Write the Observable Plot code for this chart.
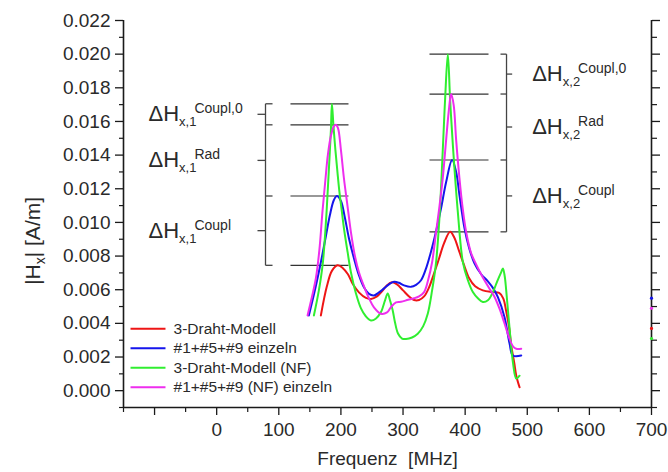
<!DOCTYPE html>
<html>
<head>
<meta charset="utf-8">
<script src="https://cdn.jsdelivr.net/npm/d3@7"></script>
<script src="https://cdn.jsdelivr.net/npm/@observablehq/plot@0.6"></script>
<style>
html, body { margin: 0; padding: 0; background: #ffffff; }
#chart { width: 668px; height: 472px; }
</style>
</head>
<body>
<div id="chart"></div>
<script>
// ---------- data (frequency in MHz, |Hx| in A/m) ----------
const seriesNames = ["3-Draht-Modell", "#1+#5+#9 einzeln", "3-Draht-Modell (NF)", "#1+#5+#9 (NF) einzeln"];
const seriesColors = ["#ee1515", "#1515ec", "#30ee30", "#ee2eee"];

const drahtModell = [
  [167.7, 0.00447], [177.4, 0.00620], [185.5, 0.00712], [194.7, 0.00745], [203.2, 0.00728],
  [211.3, 0.00692], [219.4, 0.00632], [229.0, 0.00584], [240.3, 0.00551], [248.4, 0.00545],
  [258.1, 0.00560], [266.1, 0.00590], [274.2, 0.00626], [282.3, 0.00644], [290.3, 0.00632],
  [300.0, 0.00596], [309.7, 0.00560], [317.7, 0.00539], [325.8, 0.00539], [333.9, 0.00560],
  [341.9, 0.00614], [350.0, 0.00698], [358.1, 0.00787], [366.1, 0.00877], [375.8, 0.00944],
  [382.3, 0.00912], [390.3, 0.00829], [398.4, 0.00745], [406.5, 0.00668], [416.1, 0.00620],
  [428.5, 0.00596], [444.7, 0.00586], [454.8, 0.00581], [461.3, 0.00549], [466.1, 0.00471],
  [471.0, 0.00370], [474.2, 0.00268], [479.0, 0.00167], [482.3, 0.00089], [487.6, 0.00020]
];
const einzeln = [
  [148.4, 0.00447], [158.1, 0.00596], [167.7, 0.00763], [175.8, 0.00918], [182.3, 0.01044],
  [188.7, 0.01133], [193.5, 0.01157], [200.0, 0.01127], [206.5, 0.01026], [212.9, 0.00906],
  [221.0, 0.00787], [229.0, 0.00686], [237.1, 0.00614], [245.2, 0.00575], [253.2, 0.00566],
  [261.3, 0.00584], [269.4, 0.00608], [277.4, 0.00632], [285.5, 0.00647], [293.5, 0.00641],
  [301.6, 0.00626], [312.9, 0.00617], [321.0, 0.00629], [329.0, 0.00656], [337.1, 0.00727],
  [345.2, 0.00829], [353.2, 0.00948], [361.3, 0.01085], [369.4, 0.01240], [379.0, 0.01371],
  [385.5, 0.01300], [390.8, 0.01163], [398.9, 0.00966], [406.5, 0.00847], [415.0, 0.00757],
  [425.8, 0.00692], [436.6, 0.00650], [445.2, 0.00608], [452.7, 0.00556], [463.4, 0.00437],
  [471.5, 0.00280], [476.9, 0.00209], [490.3, 0.00209]
];
const drahtModellNF = [
  [156.5, 0.00447], [164.5, 0.00596], [171.0, 0.00763], [176.6, 0.01044], [180.6, 0.01312],
  [183.9, 0.01550], [185.5, 0.01705], [187.9, 0.01580], [191.1, 0.01431], [194.4, 0.01300],
  [197.6, 0.01181], [201.6, 0.01062], [205.3, 0.00954], [210.8, 0.00823], [216.1, 0.00704],
  [224.2, 0.00578], [232.3, 0.00489], [240.3, 0.00441], [248.4, 0.00417], [256.5, 0.00429],
  [264.5, 0.00467], [271.0, 0.00537], [275.3, 0.00578], [279.0, 0.00537], [283.4, 0.00477],
  [287.1, 0.00405], [291.9, 0.00340], [298.4, 0.00310], [304.8, 0.00307], [314.5, 0.00316],
  [323.7, 0.00338], [332.3, 0.00382], [339.8, 0.00457], [346.8, 0.00596], [353.2, 0.00763],
  [358.9, 0.01044], [364.0, 0.01431], [367.7, 0.01729], [372.1, 0.02000], [375.8, 0.01729],
  [380.2, 0.01461], [388.2, 0.01063], [396.3, 0.00765], [404.4, 0.00656], [412.4, 0.00586],
  [420.5, 0.00549], [428.5, 0.00527], [436.6, 0.00537], [444.7, 0.00586], [451.6, 0.00650],
  [458.1, 0.00705], [460.8, 0.00726], [463.7, 0.00680], [466.1, 0.00596], [471.5, 0.00370],
  [476.9, 0.00169], [482.3, 0.00072], [487.6, 0.00089]
];
const einzelnNF = [
  [146.3, 0.00447], [153.2, 0.00555], [159.7, 0.00668], [165.3, 0.00835], [170.5, 0.01073],
  [175.0, 0.01252], [179.0, 0.01401], [183.9, 0.01515], [188.7, 0.01571], [191.9, 0.01580],
  [195.2, 0.01562], [200.0, 0.01431], [204.8, 0.01264], [210.8, 0.01093], [216.1, 0.00942],
  [222.6, 0.00799], [229.0, 0.00704], [237.6, 0.00616], [245.2, 0.00549], [253.2, 0.00495],
  [264.5, 0.00457], [274.2, 0.00465], [280.6, 0.00497], [288.7, 0.00525], [296.8, 0.00528],
  [308.1, 0.00540], [317.7, 0.00549], [325.8, 0.00561], [333.9, 0.00586], [340.3, 0.00656],
  [346.8, 0.00763], [353.2, 0.00942], [358.9, 0.01103], [364.0, 0.01264], [369.4, 0.01491],
  [374.2, 0.01682], [377.4, 0.01763], [381.5, 0.01699], [385.5, 0.01491], [390.8, 0.01264],
  [396.0, 0.01085], [401.6, 0.00944], [409.7, 0.00817], [417.7, 0.00751], [427.4, 0.00680],
  [439.2, 0.00606], [446.8, 0.00561], [455.3, 0.00487], [462.9, 0.00405], [471.5, 0.00308],
  [477.4, 0.00262], [482.3, 0.00249], [490.3, 0.00249]
];
// isolated end values at 700 MHz (same series order)
const endValues700 = [0.0037, 0.0055, 0.0031, 0.0049];

// annotation levels (peak heights)
const peak1Levels = [0.01705, 0.0158, 0.01157, 0.00745];
const peak2Levels = [0.0200, 0.01763, 0.01371, 0.00944];
const annotSups = ["Coupl,0", "Rad", "Coupl"];
const peak1Sub = "x,1";
const peak2Sub = "x,2";

// axis ticks
const xMajorTicks = [-100, 0, 100, 200, 300, 400, 500, 600, 700];
const xMinorTicks = [-150, -50, 50, 150, 250, 350, 450, 550, 650];
const yMajorTicks = [0, 2, 4, 6, 8, 10, 12, 14, 16, 18, 20, 22].map(v => v / 1000);
const yMinorTicks = [-1, 1, 3, 5, 7, 9, 11, 13, 15, 17, 19, 21].map(v => v / 1000);

const xTitle = "Frequenz\u00a0\u00a0[MHz]";
const yTitle = "|H_{x}| [A/m]";

// ---------- layout constants ----------
const left1 = {lineX: [118.8, 212.2], bx: 78.6, hook: 89.9, tick: 65.7, labelX: -109.8};
const right2 = {lineX: [342.6, 437.6], bx: 466.6, hook: 456.9, tick: 475.7, labelX: 507.9};
const legendLine = [-138.7, -82.4], legendTextX = -69.5, legendTop = 0.00368, legendStep = 0.00116;
const yTitleAt = 0.0089;

// ---------- build tables ----------
const allSeries = [drahtModell, einzeln, drahtModellNF, einzelnNF];
const rows = allSeries.flatMap((pts, i) => pts.map(([f, h]) => ({f, h, s: seriesNames[i]})));
const endDots = endValues700.map((h, i) => ({f: 700, h, s: seriesNames[i]}));
const legendRows = seriesNames.map((name, i) => ({name, y: legendTop - i * legendStep}));

function bracketParts(levels, g, sub) {
  const hLines = levels.map(y => ({x1: g.lineX[0], x2: g.lineX[1], y}));
  const segs = [{x1: g.bx, x2: g.bx, y1: levels[0], y2: levels[levels.length - 1]}];
  levels.forEach(y => segs.push({x1: g.bx, x2: g.hook, y1: y, y2: y}));
  const labels = [];
  for (let i = 0; i < levels.length - 1; i++) {
    const m = (levels[i] + levels[i + 1]) / 2;
    segs.push({x1: g.bx, x2: g.tick, y1: m, y2: m});
    labels.push({x: g.labelX, y: m, t: "ΔH_{" + sub + "}^{" + annotSups[i] + "}"});
  }
  return {hLines, segs, labels};
}
const A1 = bracketParts(peak1Levels, left1, peak1Sub);
const A2 = bracketParts(peak2Levels, right2, peak2Sub);
const annLines = [...A1.hLines, ...A2.hLines];
const annSegs = [...A1.segs, ...A2.segs];
const annLabels = [...A1.labels, ...A2.labels];

const font = "'Liberation Sans', Arial, Helvetica, sans-serif";
const axisColor = "#1a1a1a";
const textColor = "#2a2a2a";

const chart = Plot.plot({
  width: 668,
  height: 472,
  marginLeft: 123,
  marginRight: 17,
  marginTop: 20,
  marginBottom: 65,
  style: {fontFamily: font, background: "#ffffff", color: textColor, fontSize: "19px"},
  x: {domain: [-150, 700]},
  y: {domain: [-0.001, 0.022]},
  color: {domain: seriesNames, range: seriesColors},
  marks: [
    // axes
    Plot.axisY({ticks: yMajorTicks, tickFormat: d3.format(".3f"), tickSize: 8, tickPadding: 5, fontSize: 19, label: null, stroke: axisColor, strokeWidth: 1.3}),
    Plot.axisY({ticks: yMinorTicks, tickFormat: () => "", tickSize: 4, label: null, stroke: axisColor, strokeWidth: 1.2}),
    Plot.axisY({anchor: "right", ticks: yMajorTicks, tickFormat: () => "", tickSize: 8, label: null, stroke: axisColor, strokeWidth: 1.3}),
    Plot.axisY({anchor: "right", ticks: yMinorTicks, tickFormat: () => "", tickSize: 5, label: null, stroke: axisColor, strokeWidth: 1.2}),
    Plot.axisX({ticks: xMajorTicks, tickFormat: d => d < 0 ? "" : String(d), tickSize: 8, tickPadding: 7, fontSize: 19, label: null, stroke: axisColor, strokeWidth: 1.3}),
    Plot.axisX({ticks: xMinorTicks, tickFormat: () => "", tickSize: 5, label: null, stroke: axisColor, strokeWidth: 1.2}),
    Plot.ruleX([-150, 700], {stroke: axisColor, strokeWidth: 1.6}),
    Plot.ruleY([-0.001], {stroke: axisColor, strokeWidth: 1.6}),
    // titles
    Plot.text([xTitle], {frameAnchor: "bottom", dy: 57, lineAnchor: "bottom", fontSize: 19, fill: textColor}),
    Plot.text([{t: yTitle}], {text: "t", y: () => yTitleAt, frameAnchor: "left", dx: -84, rotate: -90, textAnchor: "middle", lineAnchor: "bottom", fontSize: 21, fill: textColor}),
    // annotations
    Plot.link(annLines, {x1: "x1", x2: "x2", y1: "y", y2: "y", stroke: "#333", strokeWidth: 1.2}),
    Plot.link(annSegs, {x1: "x1", x2: "x2", y1: "y1", y2: "y2", stroke: "#444", strokeWidth: 1.3}),
    Plot.text(annLabels, {x: "x", y: "y", text: "t", textAnchor: "start", lineAnchor: "middle", fontSize: 22, fill: textColor}),
    // curves
    Plot.line(rows, {x: "f", y: "h", z: "s", stroke: "s", strokeWidth: 2, curve: "catmull-rom"}),
    Plot.dot(endDots, {x: "f", y: "h", fill: "s", r: 1.6}),
    // legend
    Plot.link(legendRows, {x1: () => legendLine[0], x2: () => legendLine[1], y1: "y", y2: "y", stroke: "name", strokeWidth: 2}),
    Plot.text(legendRows, {x: () => legendTextX, y: "y", text: "name", textAnchor: "start", lineAnchor: "middle", fontSize: 15.5, fill: textColor})
  ]
});

// rich text: _{...} subscript, ^{...} superscript
function richify(el) {
  const s = el.textContent;
  if (!/[_^]\{/.test(s)) return;
  const isAnn = s.startsWith("ΔH");
  const subSize = isAnn ? 13 : 14, supSize = isAnn ? 14 : 14;
  const subShift = 5, supShift = 8;
  const parts = [];
  const re = /([_^])\{([^}]*)\}/g;
  let last = 0, m;
  while ((m = re.exec(s))) {
    if (m.index > last) parts.push({t: s.slice(last, m.index), k: ""});
    parts.push({t: m[2], k: m[1]});
    last = re.lastIndex;
  }
  if (last < s.length) parts.push({t: s.slice(last), k: ""});
  el.textContent = "";
  let off = 0, prev = "";
  for (const p of parts) {
    const target = p.k === "_" ? subShift : p.k === "^" ? -supShift : 0;
    const ts = document.createElementNS("http://www.w3.org/2000/svg", "tspan");
    if (target !== off) ts.setAttribute("dy", target - off);
    if (p.k) ts.setAttribute("font-size", p.k === "_" ? subSize : supSize);
    if (prev === "_" && p.k === "^") ts.setAttribute("dx", -2);
    ts.textContent = p.t;
    el.appendChild(ts);
    off = target;
    prev = p.k;
  }
}
chart.querySelectorAll("text").forEach(richify);

document.getElementById("chart").appendChild(chart);
</script>
</body>
</html>
